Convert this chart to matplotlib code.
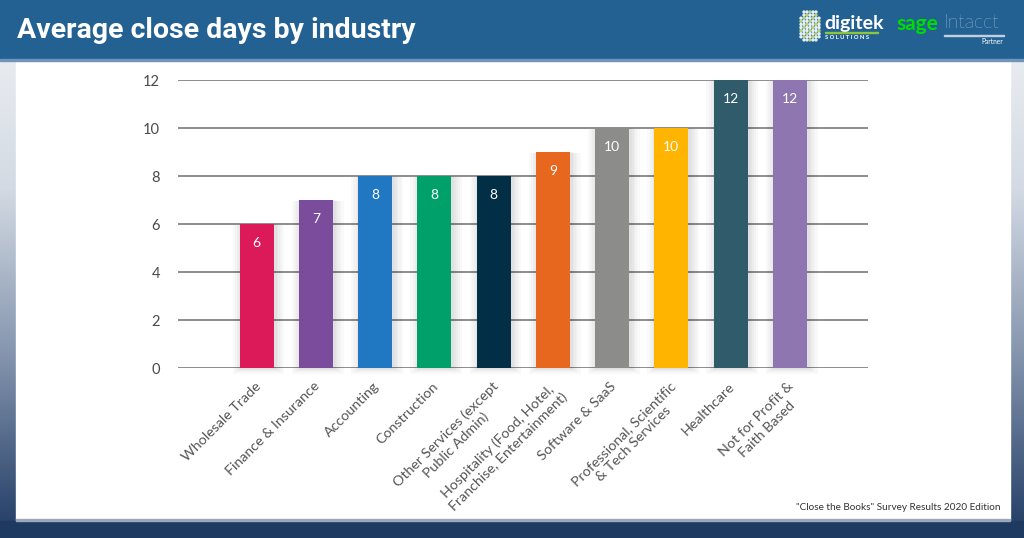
import matplotlib
matplotlib.use("Agg")
import matplotlib.pyplot as plt
import numpy as np
from matplotlib.patches import Rectangle
from matplotlib.colors import LinearSegmentedColormap

categories = ["Wholesale Trade", "Finance & Insurance", "Accounting", "Construction",
              "Other Services (except\nPublic Admin)",
              "Hospitality (Food, Hotel,\nFranchise, Entertainment)",
              "Software & SaaS", "Professional, Scientific\n& Tech Services",
              "Healthcare", "Not for Profit &\nFaith Based"]
values = [6, 7, 8, 8, 8, 9, 10, 10, 12, 12]
colors = ["#DC1A5A", "#7B4C9C", "#1F78C1", "#00A06B", "#022F46",
          "#E8671E", "#8C8C8A", "#FFB400", "#2F5B6B", "#8E77B0"]
yticks = [0, 2, 4, 6, 8, 10, 12]
title = "Average close days by industry"
source = "\"Close the Books\" Survey Results 2020 Edition"

W, H = 1024, 538
fig = plt.figure(figsize=(W / 100, H / 100), dpi=100)

# background gradient
bg = fig.add_axes([0, 0, 1, 1], zorder=-10)
bg.set_axis_off()
cmap = LinearSegmentedColormap.from_list("g", [(0, "#f2f4f7"), (0.35, "#d3dae3"),
                                                (0.65, "#8797b0"), (1, "#1f3a63")])
grad = np.linspace(0, 1, 256).reshape(-1, 1)
bg.imshow(grad, aspect="auto", cmap=cmap, extent=[0, W, H, 0])
bg.set_xlim(0, W); bg.set_ylim(H, 0)
# title bar
bg.add_patch(Rectangle((0, 0), W, 60, color="#236193", zorder=2))
bg.add_patch(Rectangle((0, 59), W, 2, color="#6f95ba", zorder=3))
# white panel
bg.add_patch(Rectangle((16, 61), 994, 459, color="white", zorder=2))
# bottom band
bg.add_patch(Rectangle((0, 521), W, 17, color="#1f3a60", zorder=2))
bg.add_patch(Rectangle((16, 519), 994, 2, color="#9aa8bc", zorder=3))

bg.text(17, 30, title, color="white", fontsize=20.5, fontweight="bold",
        family="Roboto", va="center", ha="left", zorder=5)

# logos (approximate)
for i, cx in enumerate(range(801, 820, 3)):
    for j in range(10):
        cy = 12 + j * 3.1
        if (i in (0, 6) and (j < 2 or j > 8)):
            continue
        col = "#b5d67a" if (i + j) % 3 == 0 else "#e8eef2"
        bg.add_patch(plt.Circle((cx, cy), 1.0, color=col, zorder=5))
bg.text(824, 24, "digitek", color="white", fontsize=14, fontweight="bold",
        family="Lato", va="center", ha="left", zorder=5)
bg.add_patch(Rectangle((825, 32), 53, 1, color="#8cc63f", zorder=5))
bg.text(825, 37.5, "S O L U T I O N S", color="white", fontsize=4.2, family="Lato",
        fontweight="bold", va="center", ha="left", zorder=5)
bg.text(896, 24, "sage", color="#00dc00", fontsize=15, fontweight="bold",
        family="Lato", va="center", ha="left", zorder=5)
bg.text(944, 23, "Intacct", color="white", fontsize=14, fontweight="light",
        family="Lato", va="center", ha="left", zorder=5)
bg.add_patch(Rectangle((944, 35), 60, 0.8, color="#c0d0e0", zorder=5))
bg.text(1003, 42, "Partner", color="white", fontsize=4.8, family="Lato",
        va="center", ha="right", zorder=5)

bg.text(1000, 508, source, color="#333333", fontsize=7.2, family="Lato",
        va="center", ha="right", zorder=5)

# chart axes
x0, x1 = 178, 868
y0, y1 = 368, 80
ax = fig.add_axes([x0 / W, 1 - y0 / H, (x1 - x0) / W, (y0 - y1) / H])
ax.patch.set_alpha(0)
n = len(values)
xpos = np.arange(n)
ax.set_xlim(-1.33, 10.32)
ax.set_ylim(0, 12)
for s in ax.spines.values():
    s.set_visible(False)
ax.set_yticks(yticks)
ax.yaxis.grid(True, color="#7a7a7a", linewidth=1.2)
ax.set_axisbelow(True)
ax.tick_params(axis="y", length=0, pad=13, labelsize=10.5, labelcolor="#4a4a4a")
for lab in ax.get_yticklabels():
    lab.set_family("Lato")
ax.set_xticks([])

# soft shadow
for k in [0.30, 0.22, 0.15, 0.09, 0.04]:
    ax.bar(xpos + 0.03, np.array(values) + k * 0.6, width=0.575 + k, bottom=-k * 0.8,
           color="#000000", alpha=0.025, linewidth=0, zorder=2, clip_on=False)
ax.bar(xpos, values, width=0.575, color=colors, zorder=3, clip_on=False)
for x, v in zip(xpos, values):
    ax.text(x, v - 0.8, f"{v}", color="white", fontsize=10, family="Lato",
            ha="center", va="center", zorder=4)

for x, c in zip(xpos, categories):
    ax.text(x - 0.04, -0.5, c, rotation=45, rotation_mode="anchor", ha="right",
            va="top", multialignment="center", fontsize=10.3, family="Lato",
            color="#555555")

fig.savefig("out.png", dpi=100)
